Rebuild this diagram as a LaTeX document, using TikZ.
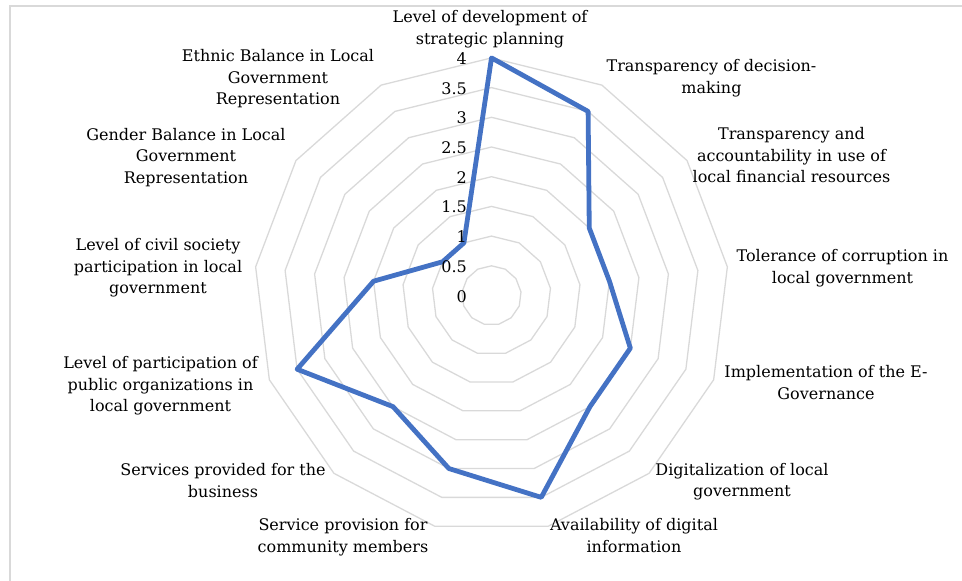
\documentclass[tikz,border=0pt]{standalone}
\usepackage{fontspec}
\setmainfont{DejaVu Serif}
\begin{document}
\begin{tikzpicture}[x=1pt,y=-1pt,
  ringline/.style={draw={rgb,255:red,217;green,217;blue,217},line width=1.3pt},
  dataline/.style={draw={rgb,255:red,68;green,114;blue,196},line width=4.8pt,line join=round},
  framel/.style={draw={rgb,255:red,217;green,217;blue,217},line width=1.3pt},
  axlab/.style={anchor=north,align=center,inner sep=0pt,font=\fontsize{16pt}{21.5pt}\selectfont},
  numlab/.style={anchor=base east,inner sep=0pt,font=\fontsize{16pt}{19pt}\selectfont}]
\useasboundingbox (0,0) rectangle (962,581);
\def\cx{491.5}\def\cy{295.5}\def\u{59.4}
\coordinate (C) at (\cx,\cy);
% frame
\coordinate (FBL) at (10,581);
\coordinate (FTL) at (10,6);
\coordinate (FTR) at (962,6);
\draw[framel] (FBL) -- (FTL) -- (FTR);
% rings
\foreach \i in {1,...,8}{
  \draw[ringline] (\cx,{\cy-\i*\u/2})
    \foreach \k in {1,...,12}{ -- ({\cx+\i*\u/2*sin(\k*360/13)},{\cy-\i*\u/2*cos(\k*360/13)}) } -- cycle;
}
% data
\draw[dataline] (\cx,{\cy-4*\u})
  \foreach \k/\v in {1/3.5,2/2,3/2,4/2.5,5/2.5,6/3.5,7/3,8/2.5,9/3.5,10/2,11/1,12/1}{
    -- ({\cx+\v*\u*sin(\k*360/13)},{\cy-\v*\u*cos(\k*360/13)}) } -- cycle;
% scale numbers
\foreach \n/\t in {0/0,1/0.5,2/1,3/1.5,4/2,5/2.5,6/3,7/3.5,8/4}{
  \node[numlab] (n\n) at (467,{\cy-\n*\u/2+6.5}) {\t};
}
% axis labels
\node[axlab] (L0) at (490,9.5) {\rule{0pt}{13pt}Level of development of\\strategic planning};
\node[axlab] (L1) at (711.5,58.7) {\rule{0pt}{13pt}Transparency of decision-\\making};
\node[axlab] (L2) at (791.5,126.3) {\rule{0pt}{13pt}Transparency and\\accountability in use of\\local financial resources};
\node[axlab] (L3) at (842.5,248.7) {\rule{0pt}{13pt}Tolerance of corruption in\\local government};
\node[axlab] (L4) at (826,364.7) {\rule{0pt}{13pt}Implementation of the E-\\Governance};
\node[axlab] (L5) at (742,462) {\rule{0pt}{13pt}Digitalization of local\\government};
\node[axlab] (L6) at (634,517.5) {\rule{0pt}{13pt}Availability of digital\\information};
\node[axlab] (L7) at (343,517.5) {\rule{0pt}{13pt}Service provision for\\community members};
\node[axlab] (L8) at (223,462.5) {\rule{0pt}{13pt}Services provided for the\\business};
\node[axlab] (L9) at (160.5,355.5) {\rule{0pt}{13pt}Level of participation of\\public organizations in\\local government};
\node[axlab] (L10) at (158,237.7) {\rule{0pt}{13pt}Level of civil society\\participation in local\\government};
\node[axlab] (L11) at (186,127) {\rule{0pt}{13pt}Gender Balance in Local\\Government\\Representation};
\node[axlab] (L12) at (278,48.7) {\rule{0pt}{13pt}Ethnic Balance in Local\\Government\\Representation};
\end{tikzpicture}
\end{document}
